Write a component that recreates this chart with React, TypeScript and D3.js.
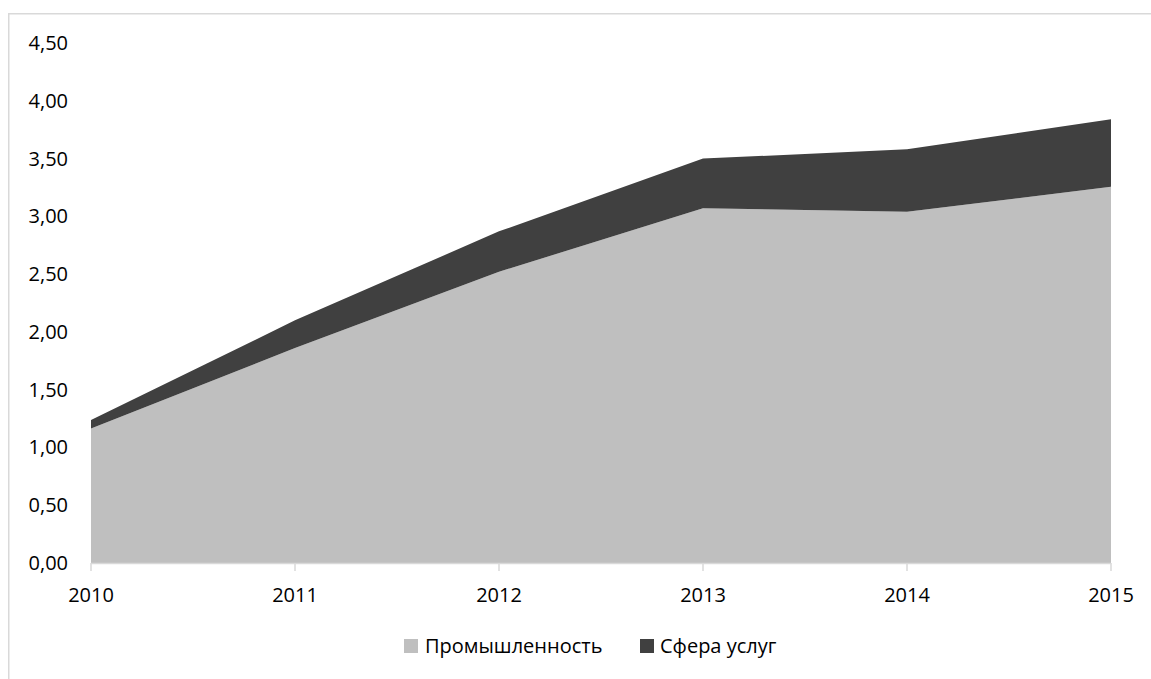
import React from "react";
import * as d3 from "d3";

const years = [2010, 2011, 2012, 2013, 2014, 2015];
const industry = [1.165, 1.86, 2.52, 3.07, 3.04, 3.255];
const services = [0.072, 0.24, 0.35, 0.43, 0.54, 0.585];
const seriesNames = ["Промышленность", "Сфера услуг"];
const seriesColors = ["#bfbfbf", "#404040"];
const yTicks = [0, 0.5, 1, 1.5, 2, 2.5, 3, 3.5, 4, 4.5];

const W = 1151;
const H = 679;
const FONT = "'Open Sans', 'DejaVu Sans', sans-serif";

export default function App() {
  const x = d3.scaleLinear().domain([2010, 2015]).range([91, 1111]);
  const y = d3.scaleLinear().domain([0, 4.5]).range([563, 43]);

  const rows = years.map((yr, i) => ({ year: yr, a: industry[i], b: services[i] }));
  const stack = d3.stack<any>().keys(["a", "b"]);
  const layers = stack(rows);
  const area = d3
    .area<any>()
    .x((d) => x(d.data.year))
    .y0((d) => y(d[0]))
    .y1((d) => y(d[1]));

  const fmt = (v: number) => v.toFixed(2).replace(".", ",");

  return (
    <svg
      width={W}
      height={H}
      style={{ position: "absolute", left: 0, top: 0, background: "#fff" }}
      fontFamily={FONT}
    >
      <rect x={8.75} y={13.75} width={1150} height={700} fill="#fff" stroke="#d9d9d9" strokeWidth={1.5} />
      {layers.map((layer, i) => (
        <path key={i} d={area(layer) || ""} fill={seriesColors[i]} />
      ))}
      <line x1={x(2010)} x2={x(2015)} y1={y(0) + 0.5} y2={y(0) + 0.5} stroke="#d9d9d9" strokeWidth={1.5} />
      {years.map((yr) => (
        <line key={yr} x1={x(yr)} x2={x(yr)} y1={y(0)} y2={y(0) + 8} stroke="#d9d9d9" strokeWidth={1.5} />
      ))}
      {yTicks.map((t) => (
        <text key={t} x={68} y={y(t)} dy="0.35em" textAnchor="end" fontSize={20} fill="#000">
          {fmt(t)}
        </text>
      ))}
      {years.map((yr) => (
        <text key={yr} x={x(yr)} y={595} dy="0.35em" textAnchor="middle" fontSize={20} fill="#000">
          {yr}
        </text>
      ))}
      <g>
        <rect x={404} y={639} width={14} height={14} fill={seriesColors[0]} />
        <text x={425} y={646} dy="0.35em" fontSize={20} fill="#000">
          {seriesNames[0]}
        </text>
        <rect x={640} y={639} width={14} height={14} fill={seriesColors[1]} />
        <text x={660} y={646} dy="0.35em" fontSize={20} fill="#000">
          {seriesNames[1]}
        </text>
      </g>
    </svg>
  );
}
